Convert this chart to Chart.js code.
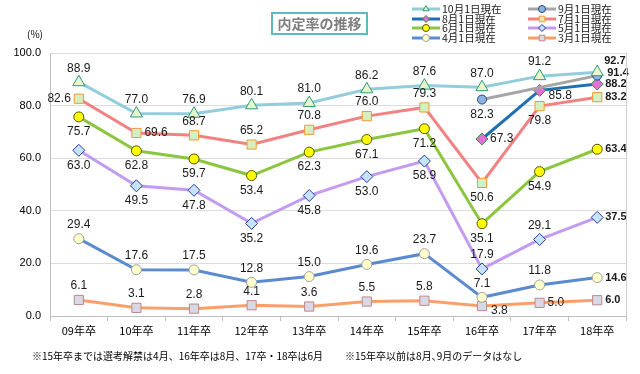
<!DOCTYPE html>
<html>
<head>
<meta charset="utf-8">
<script src="https://cdn.jsdelivr.net/npm/chart.js@4"></script>
<style>
html, body { margin: 0; padding: 0; background: #fff; }
#wrap { position: relative; width: 640px; height: 374px; font-family: "Noto Sans CJK JP", sans-serif; }
#title { position: absolute; left: 271px; top: 12px; width: 93px; height: 19px; border: 2px solid #5cbcbc;
  color: #7f7f7f; font-weight: bold; font-size: 14px; line-height: 19px; text-align: center; }
#unit { position: absolute; left: 27px; top: 26px; font-size: 10px; color: #000; }
.note { position: absolute; top: 349px; font-size: 10px; line-height: 14px; color: #000; white-space: nowrap; }
</style>
</head>
<body>
<div id="wrap">
  <canvas id="chart" width="640" height="374"></canvas>
  <div id="title">内定率の推移</div>
  <div id="unit">(%)</div>
  <div class="note" style="left:32px">※15年卒までは選考解禁は4月、16年卒は8月、17卒・18卒は6月</div>
  <div class="note" style="left:345px">※15年卒以前は8月､9月のデータはなし</div>
</div>
<script>
const years = ['09年卒', '10年卒', '11年卒', '12年卒', '13年卒', '14年卒', '15年卒', '16年卒', '17年卒', '18年卒'];
const oct1 = [88.9, 77.0, 76.9, 80.1, 81.0, 86.2, 87.6, 87.0, 91.2, 92.7];
const sep1 = [null, null, null, null, null, null, null, 82.3, null, 91.4];
const aug1 = [null, null, null, null, null, null, null, 67.3, 85.8, 88.2];
const jul1 = [82.6, 69.6, 68.7, 65.2, 70.8, 76.0, 79.3, 50.6, 79.8, 83.2];
const jun1 = [75.7, 62.8, 59.7, 53.4, 62.3, 67.1, 71.2, 35.1, 54.9, 63.4];
const may1 = [63.0, 49.5, 47.8, 35.2, 45.8, 53.0, 58.9, 17.9, 29.1, 37.5];
const apr1 = [29.4, 17.6, 17.5, 12.8, 15.0, 19.6, 23.7, 7.1, 11.8, 14.6];
const mar1 = [6.1, 3.1, 2.8, 4.1, 3.6, 5.5, 5.8, 3.8, 5.0, 6.0];
const yTicks = [0, 20, 40, 60, 80, 100];

// where each value label sits relative to its point
// a=above, b=below, l=left, r=right, ra/rt/rb = right & up / slightly up / down
const labelPos = {
    '10月1日現在': ['a', 'a', 'a', 'a', 'a', 'a', 'a', 'a', 'a', 'ra'],
    '9月1日現在': [, , , , , , , 'b', , 'rt'],
    '8月1日現在': [, , , , , , , 'r', 'rb', 'r'],
    '7月1日現在': ['l', 'r', 'a', 'a', 'a', 'a', 'a', 'b', 'b', 'r'],
    '6月1日現在': ['b', 'b', 'b', 'b', 'b', 'b', 'b', 'b', 'b', 'r'],
    '5月1日現在': ['b', 'b', 'b', 'b', 'b', 'b', 'b', 'a', 'a', 'r'],
    '4月1日現在': ['a', 'a', 'a', 'a', 'a', 'a', 'a', 'a', 'a', 'r'],
    '3月1日現在': ['a', 'a', 'a', 'a', 'a', 'a', 'a', 'rb', 'r', 'r']
};

function series(label, data, line, style, fill, border, radius) {
    return {
        label: label, data: data, borderColor: line, borderWidth: 3,
        pointStyle: style, pointBackgroundColor: fill, pointBorderColor: border,
        pointBorderWidth: 1, pointRadius: radius, tension: 0, spanGaps: true
    };
}

const datasets = [
    series('10月1日現在', oct1, '#92cddc', 'triangle', '#e8f6cc', '#2e9a7a', 7),
    series('9月1日現在', sep1, '#a6a6a6', 'circle', '#8db3e2', '#1f497d', 4.5),
    series('8月1日現在', aug1, '#1f6fb5', 'rectRot', '#e36fd8', '#3d8a3d', 6),
    series('7月1日現在', jul1, '#f28282', 'rect', '#d6efc2', '#f09a30', 6.5),
    series('6月1日現在', jun1, '#8cc63f', 'circle', '#ffff00', '#555500', 5),
    series('5月1日現在', may1, '#c39bf0', 'rectRot', '#c8e2f8', '#1f3f9f', 6),
    series('4月1日現在', apr1, '#5a8ad0', 'circle', '#ffffcc', '#a0a0a0', 5),
    series('3月1日現在', mar1, '#f9a06a', 'rect', '#d9d9e6', '#c08888', 6.5)
];

const valueLabels = {
    id: 'valueLabels',
    afterDatasetsDraw(chart) {
        const ctx = chart.ctx;
        ctx.save();
        ctx.fillStyle = '#1a1a1a';
        chart.data.datasets.forEach((ds, di) => {
            const meta = chart.getDatasetMeta(di);
            const pos = labelPos[ds.label];
            ds.data.forEach((v, i) => {
                if (v === null) return;
                const pt = meta.data[i];
                const p = pos[i] || 'a';
                const last = i === ds.data.length - 1;
                ctx.font = last ? 'bold 11px "Liberation Sans", Arial, sans-serif'
                                : '12px "Liberation Sans", Arial, sans-serif';
                let x = pt.x, y = pt.y;
                ctx.textAlign = 'center';
                ctx.textBaseline = 'middle';
                if (p === 'a') y -= 14;
                else if (p === 'b') y += 15;
                else if (p === 'l') { x -= 8; ctx.textAlign = 'right'; }
                else if (p === 'r') { x += 8; ctx.textAlign = 'left'; }
                else if (p === 'ra') { x += 7; y -= 11; ctx.textAlign = 'left'; }
                else if (p === 'rt') { x += 10; y -= 3; ctx.textAlign = 'left'; }
                else if (p === 'rb') { x += 9; y += 5; ctx.textAlign = 'left'; }
                ctx.fillText(v.toFixed(1), x, y);
            });
        });
        ctx.restore();
    }
};

function drawMarker(ctx, ds, x, y, r) {
    ctx.fillStyle = ds.pointBackgroundColor;
    ctx.strokeStyle = ds.pointBorderColor;
    ctx.lineWidth = 1;
    Chart.helpers.drawPoint(ctx, { pointStyle: ds.pointStyle, radius: r, borderWidth: 1 }, x, y);
}

const sideLegend = {
    id: 'sideLegend',
    afterDraw(chart) {
        const ctx = chart.ctx;
        const ds = chart.data.datasets;
        const cols = [[0, 2, 4, 6], [1, 3, 5, 7]];
        const colX = [412, 528];
        const rowY = [9, 19, 28, 38];
        ctx.save();
        cols.forEach((col, c) => {
            col.forEach((di, r) => {
                const d = ds[di];
                const x = colX[c], y = rowY[r];
                ctx.strokeStyle = d.borderColor;
                ctx.lineWidth = 3;
                ctx.beginPath();
                ctx.moveTo(x, y);
                ctx.lineTo(x + 28, y);
                ctx.stroke();
                drawMarker(ctx, d, x + 14, y, d.pointStyle === 'rect' ? 4 : 3.5);
                ctx.fillStyle = '#1a1a1a';
                ctx.font = '10.5px "Noto Sans CJK JP", sans-serif';
                ctx.textAlign = 'left';
                ctx.textBaseline = 'middle';
                ctx.fillText(d.label, x + 30, y + 0.5);
            });
        });
        // right border of plot
        const a = chart.chartArea;
        ctx.strokeStyle = '#d0d0d0';
        ctx.lineWidth = 1;
        ctx.beginPath();
        ctx.moveTo(a.right + 0.5, a.top);
        ctx.lineTo(a.right + 0.5, a.bottom);
        ctx.stroke();
        ctx.restore();
    }
};

new Chart(document.getElementById('chart'), {
    type: 'line',
    data: { labels: years, datasets: datasets },
    options: {
        responsive: false,
        animation: false,
        layout: { padding: { top: 53, right: 14, bottom: 34, left: 0 } },
        plugins: { legend: { display: false }, tooltip: { enabled: false } },
        scales: {
            x: {
                offset: true,
                grid: { offset: true, drawOnChartArea: false, tickLength: 5, color: '#bfbfbf' },
                border: { color: '#bfbfbf' },
                ticks: { color: '#000', padding: 3, font: { size: 11, family: '"Noto Sans CJK JP", sans-serif' } },
                afterFit: s => { s.height = 24; }
            },
            y: {
                min: 0, max: 100,
                afterBuildTicks: s => { s.ticks = yTicks.map(v => ({ value: v })); },
                grid: { color: '#dcdcdc', tickLength: 0 },
                border: { color: '#bfbfbf' },
                ticks: { color: '#000', padding: 9, callback: v => v.toFixed(1),
                    font: { size: 11, family: '"Liberation Sans", Arial, sans-serif' } },
                afterFit: s => { s.width = 50; }
            }
        }
    },
    plugins: [valueLabels, sideLegend]
});
</script>
</body>
</html>
